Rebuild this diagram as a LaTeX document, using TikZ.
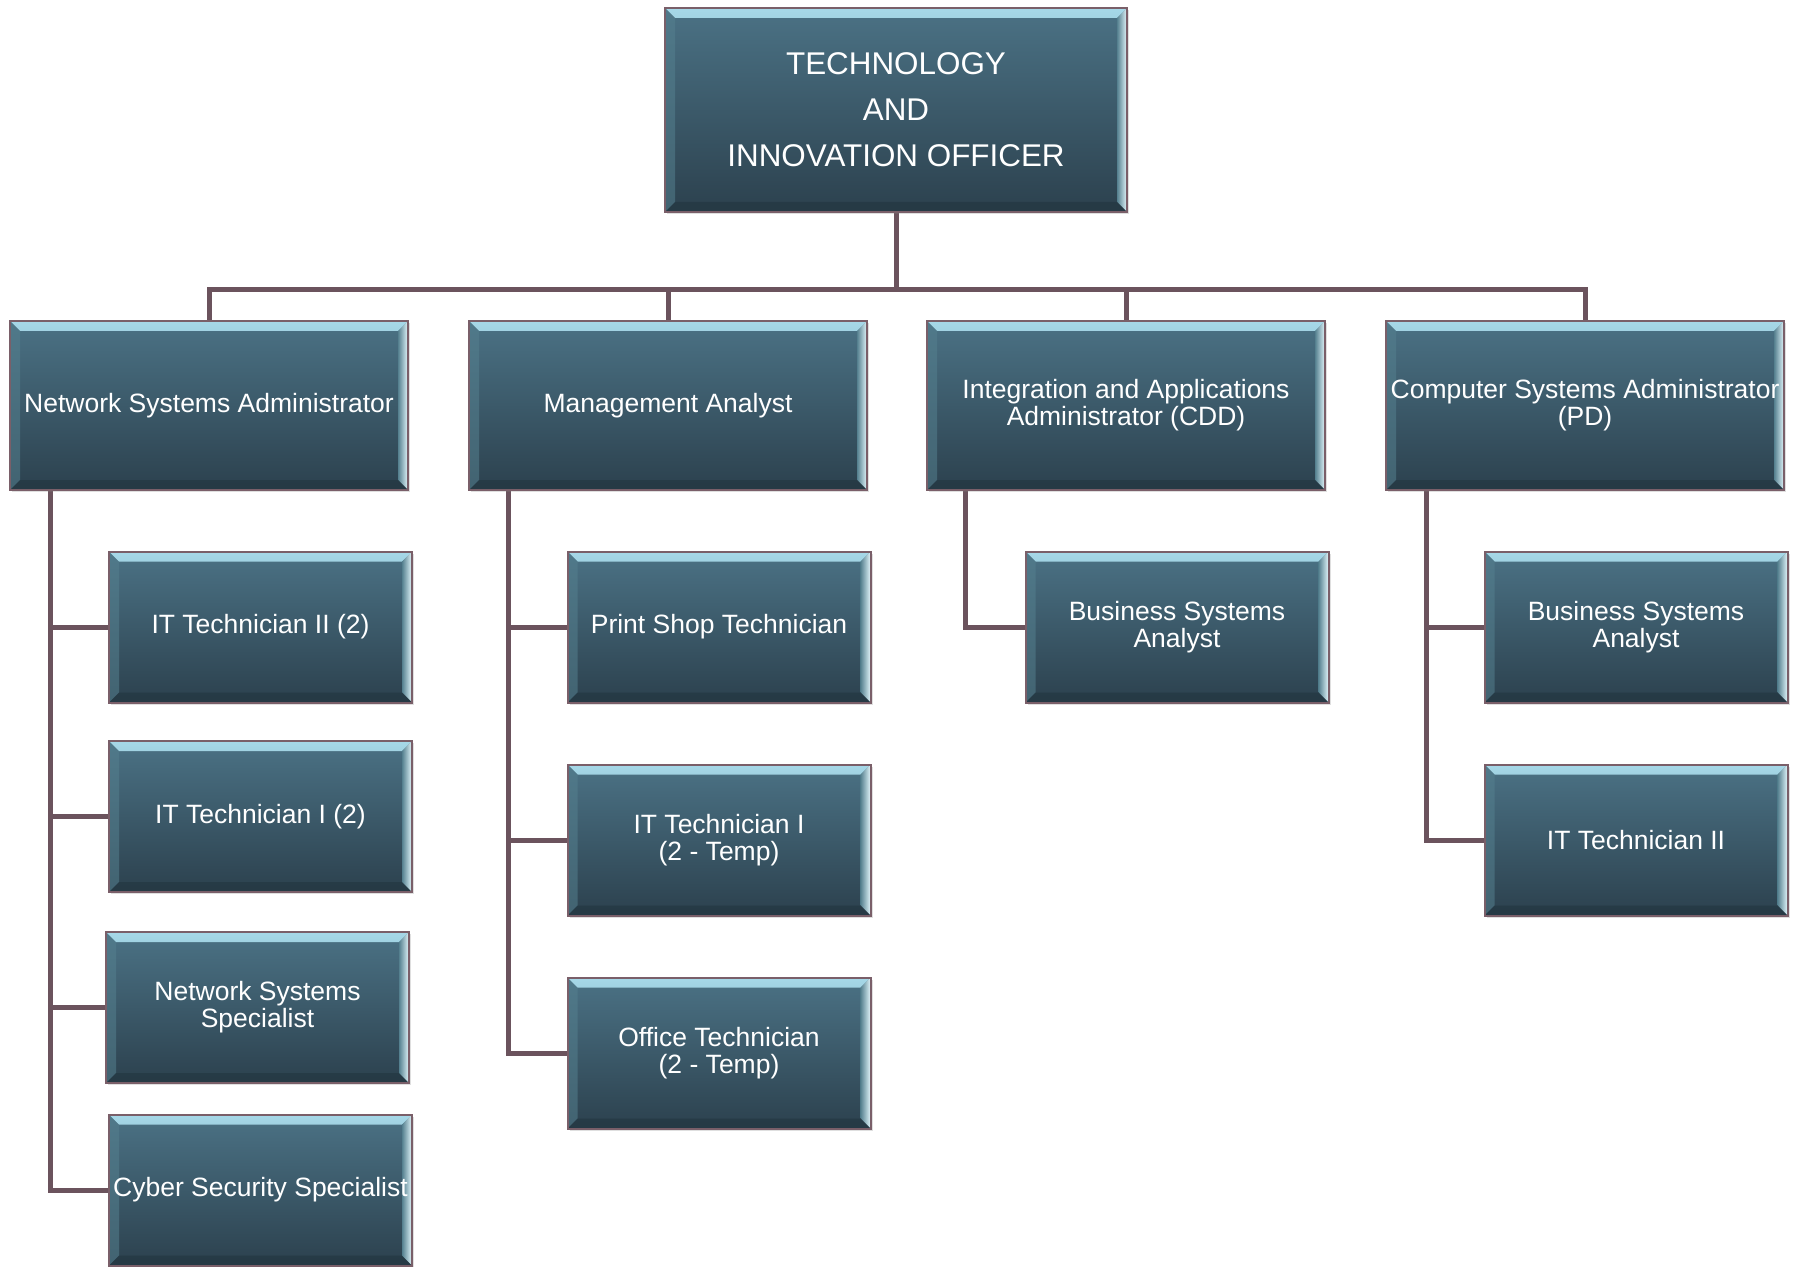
\documentclass[tikz,border=0pt]{standalone}
\usepackage{fontspec}
\setmainfont{Liberation Sans}
\usetikzlibrary{shadows,backgrounds}

\definecolor{boxtop}{HTML}{4B7285}
\definecolor{boxbot}{HTML}{2C414E}
\definecolor{boxedge}{HTML}{7A5F69}
\definecolor{linkcol}{HTML}{6B535D}
\definecolor{bevtop}{HTML}{A6D8E8}
\definecolor{bevmid}{HTML}{55808F}
\definecolor{bevright}{HTML}{E2F6FB}
\definecolor{bevbot}{HTML}{22353F}

\tikzset{
  bevel/.style={
    path picture={
      % top bevel
      \shade[top color=bevtop, bottom color=bevmid]
        (path picture bounding box.north west) --
        (path picture bounding box.north east) --
        ([xshift=-5pt,yshift=-5pt]path picture bounding box.north east) --
        ([xshift=5pt,yshift=-5pt]path picture bounding box.north west) -- cycle;
      % right bevel
      \shade[left color=bevmid, right color=bevright]
        (path picture bounding box.north east) --
        (path picture bounding box.south east) --
        ([xshift=-5pt,yshift=5pt]path picture bounding box.south east) --
        ([xshift=-5pt,yshift=-5pt]path picture bounding box.north east) -- cycle;
      % left bevel
      \fill[bevmid, opacity=0.55]
        (path picture bounding box.north west) --
        (path picture bounding box.south west) --
        ([xshift=5pt,yshift=5pt]path picture bounding box.south west) --
        ([xshift=5pt,yshift=-5pt]path picture bounding box.north west) -- cycle;
      % bottom bevel
      \fill[bevbot, opacity=0.6]
        (path picture bounding box.south west) --
        (path picture bounding box.south east) --
        ([xshift=-5pt,yshift=5pt]path picture bounding box.south east) --
        ([xshift=5pt,yshift=5pt]path picture bounding box.south west) -- cycle;
    }
  },
  orgbox/.style={
    rectangle, draw=boxedge, line width=1pt,
    top color=boxtop, bottom color=boxbot,
    bevel, text=white, align=center, inner sep=0pt,
    font=\fontsize{13.25}{13.6}\selectfont,
    drop shadow={shadow xshift=1.2pt, shadow yshift=-1.2pt, opacity=0.25}
  },
  headbox/.style={orgbox, minimum width=231pt, minimum height=102pt,
    font=\fontsize{15.7}{23}\selectfont},
  mgrbox/.style={orgbox, minimum width=199pt, minimum height=84.5pt},
  staffbox/.style={orgbox, minimum width=151.5pt, minimum height=75.5pt},
  link/.style={draw=linkcol, line width=2.5pt}
}

\begin{document}
\begin{tikzpicture}[x=0.5pt, y=-0.5pt]
  \useasboundingbox (0,0) rectangle (1802,1267);

  % head of the unit
  \node[headbox] (head) at (896,110) {TECHNOLOGY\\AND\\INNOVATION OFFICER};

  % managers
  \node[mgrbox] (nsa) at (209,405.5) {Network Systems Administrator};
  \node[mgrbox] (ma)  at (668,405.5) {Management Analyst};
  \node[mgrbox] (iaa) at (1126,405.5) {Integration and Applications\\Administrator (CDD)};
  \node[mgrbox] (csa) at (1585,405.5) {Computer Systems Administrator\\(PD)};

  % staff under the network systems administrator
  \node[staffbox] (it2)  at (260.5,627)  {IT Technician II (2)};
  \node[staffbox] (it1)  at (260.5,816.5) {IT Technician I (2)};
  \node[staffbox] (nss)  at (257.5,1007.5) {Network Systems\\Specialist};
  \node[staffbox] (css)  at (260.5,1190) {Cyber Security Specialist};

  % staff under the management analyst
  \node[staffbox] (pst)  at (719,627)  {Print Shop Technician};
  \node[staffbox] (it1t) at (719,840)  {IT Technician I\\(2 - Temp)};
  \node[staffbox] (oft)  at (719,1053) {Office Technician\\(2 - Temp)};

  % staff under the integration and applications administrator
  \node[staffbox] (bsa1) at (1177,627) {Business Systems\\Analyst};

  % staff under the computer systems administrator
  \node[staffbox] (bsa2) at (1636,627) {Business Systems\\Analyst};
  \node[staffbox] (it2b) at (1636,840) {IT Technician II};

  \begin{scope}[on background layer]
    % connectors from the head to the managers
    \coordinate (bus) at (896,290);
    \draw[link] (head.south) -- (bus);
    \foreach \m in {nsa,ma,iaa,csa} \draw[link] (bus) -| (\m.north);

    % connectors from each manager to its staff
    \foreach \c in {it2,it1,nss,css}
      \draw[link] ([xshift=20.5pt]nsa.south west) |- (\c.west);
    \foreach \c in {pst,it1t,oft}
      \draw[link] ([xshift=20pt]ma.south west) |- (\c.west);
    \draw[link] ([xshift=19.5pt]iaa.south west) |- (bsa1.west);
    \foreach \c in {bsa2,it2b}
      \draw[link] ([xshift=20.5pt]csa.south west) |- (\c.west);
  \end{scope}
\end{tikzpicture}
\end{document}
